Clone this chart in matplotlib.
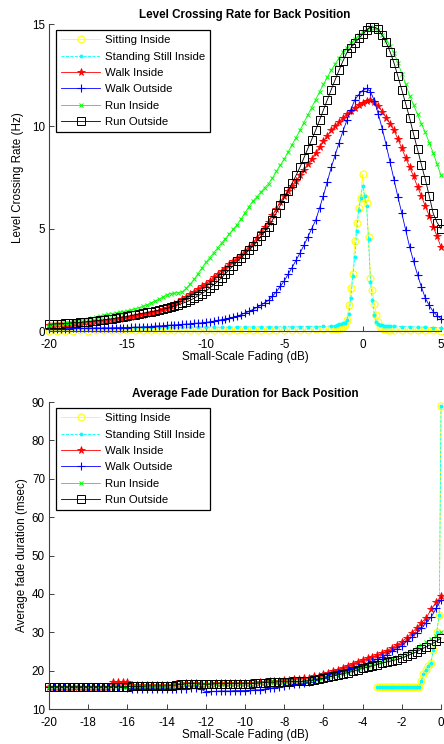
import numpy as np
import matplotlib
matplotlib.use("Agg")
import matplotlib.pyplot as plt

plt.rcParams['font.family'] = ['Liberation Sans', 'DejaVu Sans']
plt.rcParams['axes.unicode_minus'] = False

labels = ["Sitting Inside", "Standing Still Inside", "Walk Inside",
          "Walk Outside", "Run Inside", "Run Outside"]

# ---- level crossing rate (Hz) vs fading level (dB) ----
lcr_db = np.linspace(-20, 5, 101)
lcr_still_db = np.concatenate([np.linspace(-20, -2, 37),
                               np.linspace(-1.75, 1.75, 29),
                               np.linspace(2, 5, 7)])

lcr_sitting = [0.02, 0.02, 0.02, 0.02, 0.03, 0.02, 0.03, 0.03, 0.03, 0.03,
               0.03, 0.03, 0.04, 0.03, 0.04, 0.04, 0.04, 0.04, 0.04, 0.05,
               0.05, 0.05, 0.05, 0.05, 0.05, 0.06, 0.05, 0.06, 0.06, 0.06,
               0.06, 0.07, 0.07, 0.07, 0.08, 0.08, 0.09,
               0.10, 0.11, 0.13, 0.16, 0.20, 0.28, 0.55, 1.25, 2.1, 2.8,
               4.4, 5.3, 6.0, 6.5, 7.65, 6.5, 6.25, 4.6, 2.6, 2.0,
               1.3, 0.8, 0.42, 0.22, 0.13, 0.10, 0.08, 0.07, 0.06,
               0.05, 0.04, 0.04, 0.03, 0.03, 0.03, 0.02]
lcr_standing = [0.15, 0.15, 0.15, 0.16, 0.16, 0.16, 0.16, 0.17, 0.17, 0.17,
                0.17, 0.17, 0.18, 0.18, 0.18, 0.18, 0.18, 0.18, 0.19, 0.19,
                0.19, 0.19, 0.19, 0.19, 0.20, 0.20, 0.20, 0.20, 0.20, 0.20,
                0.21, 0.21, 0.21, 0.22, 0.22, 0.23, 0.24,
                0.25, 0.28, 0.32, 0.35, 0.37, 0.40, 0.55, 0.85, 1.6, 2.7,
                3.6, 4.9, 5.9, 6.5, 7.1, 6.6, 6.1, 4.5, 2.4, 1.5,
                0.8, 0.45, 0.33, 0.29, 0.27, 0.26, 0.25, 0.25, 0.24,
                0.24, 0.22, 0.21, 0.20, 0.19, 0.17, 0.16]
lcr_walk_in = [0.30, 0.31, 0.32, 0.34, 0.35, 0.36, 0.37, 0.39, 0.40, 0.42, 0.44, 0.46,
               0.48, 0.49, 0.51, 0.53, 0.55, 0.57, 0.60, 0.62, 0.65, 0.68, 0.72, 0.76,
               0.80, 0.85, 0.90, 0.95, 1.00, 1.07, 1.14, 1.22, 1.30, 1.42, 1.55, 1.68,
               1.80, 1.92, 2.05, 2.18, 2.30, 2.45, 2.62, 2.80, 2.95, 3.10, 3.25, 3.40,
               3.55, 3.72, 3.90, 4.10, 4.30, 4.55, 4.82, 5.10, 5.35, 5.65, 5.98, 6.30,
               6.60, 6.85, 7.10, 7.35, 7.60, 7.88, 8.15, 8.42, 8.70, 8.98, 9.28, 9.55,
               9.80, 10.00, 10.22, 10.42, 10.60, 10.75, 10.90, 11.05, 11.15, 11.25, 11.30, 11.20,
               11.00, 10.72, 10.42, 10.12, 9.80, 9.38, 8.92, 8.45, 8.00, 7.55, 7.05, 6.58,
               6.10, 5.62, 5.10, 4.62, 4.10]
lcr_walk_out = [0.12, 0.12, 0.12, 0.12, 0.12, 0.12, 0.13, 0.13, 0.13, 0.13, 0.14, 0.14,
                0.14, 0.14, 0.15, 0.15, 0.15, 0.16, 0.16, 0.17, 0.17, 0.18, 0.19, 0.19,
                0.20, 0.21, 0.22, 0.24, 0.25, 0.26, 0.27, 0.29, 0.30, 0.31, 0.32, 0.34,
                0.35, 0.37, 0.39, 0.40, 0.42, 0.45, 0.48, 0.52, 0.55, 0.59, 0.63, 0.67,
                0.72, 0.80, 0.88, 0.96, 1.05, 1.15, 1.26, 1.38, 1.50, 1.70, 1.92, 2.18,
                2.45, 2.78, 3.10, 3.45, 3.80, 4.18, 4.58, 5.00, 5.40, 6.00, 6.62, 7.30,
                8.00, 8.60, 9.20, 9.78, 10.30, 10.80, 11.30, 11.55, 11.75, 11.85, 11.70, 11.25,
                10.60, 9.88, 9.10, 8.25, 7.40, 6.55, 5.75, 4.92, 4.10, 3.40, 2.75, 2.15,
                1.60, 1.25, 0.95, 0.75, 0.60]
lcr_run_in = [0.30, 0.32, 0.34, 0.36, 0.38, 0.41, 0.45, 0.48, 0.52, 0.56, 0.60, 0.64,
              0.68, 0.72, 0.77, 0.81, 0.85, 0.88, 0.91, 0.94, 0.97, 1.02, 1.08, 1.14,
              1.20, 1.28, 1.37, 1.46, 1.55, 1.65, 1.78, 1.83, 1.85, 1.87, 1.92, 2.08,
              2.30, 2.52, 2.80, 3.08, 3.35, 3.58, 3.82, 4.06, 4.30, 4.52, 4.75, 4.98,
              5.20, 5.48, 5.78, 6.08, 6.35, 6.55, 6.78, 7.00, 7.20, 7.48, 7.80, 8.10,
              8.40, 8.75, 9.10, 9.45, 9.80, 10.18, 10.55, 10.92, 11.30, 11.68, 12.05, 12.40,
              12.75, 13.05, 13.35, 13.62, 13.85, 14.05, 14.25, 14.45, 14.60, 14.75, 14.85, 14.80,
              14.70, 14.48, 14.22, 13.92, 13.60, 13.10, 12.58, 12.05, 11.50, 11.05, 10.58, 10.12,
              9.70, 9.20, 8.70, 8.15, 7.60]
lcr_run_out = [0.33, 0.34, 0.35, 0.36, 0.37, 0.38, 0.40, 0.41, 0.42, 0.44, 0.46, 0.48,
               0.50, 0.52, 0.55, 0.57, 0.60, 0.63, 0.66, 0.69, 0.72, 0.76, 0.80, 0.84,
               0.87, 0.91, 0.95, 0.98, 1.02, 1.06, 1.11, 1.16, 1.22, 1.28, 1.35, 1.42,
               1.50, 1.60, 1.72, 1.83, 1.95, 2.10, 2.26, 2.42, 2.60, 2.80, 3.00, 3.20,
               3.40, 3.58, 3.78, 3.96, 4.15, 4.38, 4.62, 4.85, 5.10, 5.42, 5.78, 6.14,
               6.50, 6.86, 7.22, 7.60, 8.00, 8.45, 8.90, 9.35, 9.80, 10.30, 10.80, 11.30,
               11.80, 12.28, 12.75, 13.20, 13.60, 13.85, 14.08, 14.30, 14.50, 14.70, 14.85, 14.85,
               14.75, 14.45, 14.10, 13.65, 13.10, 12.45, 11.78, 11.10, 10.40, 9.62, 8.88, 8.12,
               7.40, 6.60, 5.75, 5.30, 5.00]

# ---- average fade duration (msec) vs fading level (dB) ----
afd_db = np.linspace(-20, 0, 81)
afd_still_db = np.concatenate([np.linspace(-3.25, -1.125, 18),
                               [-1.0, -0.9, -0.78, -0.65, -0.52, -0.39, -0.22, -0.09, 0.0]])

afd_sitting = [15.8, 15.8, 15.8, 15.8, 15.8, 15.8, 15.8, 15.8, 15.8,
               15.8, 15.8, 15.8, 15.8, 15.8, 15.8, 15.8, 15.8, 15.8,
               17.4, 19.0, 20.2, 21.2, 22.1, 25.3, 30.2, 34.5, 89.0]
afd_standing = [15.8, 15.8, 15.8, 15.8, 15.8, 15.8, 15.8, 15.8, 15.8,
                15.8, 15.8, 15.8, 15.8, 15.8, 15.8, 15.8, 15.8, 15.8,
                17.4, 19.0, 20.2, 21.2, 22.1, 25.3, 30.0, 34.5, 89.0]
afd_walk_in = [15.8, 15.8, 15.8, 15.8, 15.8, 15.8, 15.8, 15.8, 15.8, 15.8, 15.8, 15.8,
               15.8, 17.0, 17.0, 17.0, 17.0, 16.3, 16.3, 16.3, 16.3, 16.3, 16.3, 16.3,
               16.3, 16.3, 16.4, 16.5, 16.7, 16.7, 16.7, 16.6, 16.6, 16.6, 16.7, 16.7,
               16.7, 16.7, 16.7, 16.7, 16.7, 16.8, 16.9, 17.0, 17.1, 17.2, 17.3, 17.4,
               17.5, 17.6, 17.7, 17.9, 18.0, 18.2, 18.5, 18.7, 19.0, 19.4, 19.9, 20.3,
               20.8, 21.3, 21.8, 22.3, 22.8, 23.2, 23.6, 24.0, 24.5, 25.2, 25.9, 26.7,
               27.5, 28.6, 29.8, 31.1, 32.5, 33.8, 36.0, 37.8, 39.5]
afd_walk_out = [15.7, 15.7, 15.7, 15.7, 15.7, 15.7, 15.7, 15.7, 15.7, 15.7, 15.7, 15.7,
                15.7, 15.7, 15.7, 15.7, 15.4, 15.3, 15.3, 15.3, 15.3, 15.3, 15.3, 15.3,
                15.3, 15.3, 15.3, 15.3, 15.3, 15.4, 15.4, 15.2, 14.5, 14.6, 14.6, 14.7,
                14.7, 14.7, 14.8, 14.8, 14.8, 14.9, 15.0, 15.0, 15.2, 15.4, 15.6, 15.8,
                16.0, 16.2, 16.4, 16.6, 16.8, 17.1, 17.5, 17.8, 18.2, 18.6, 19.0, 19.4,
                19.8, 20.2, 20.6, 21.0, 21.5, 22.0, 22.5, 23.0, 23.5, 24.2, 25.0, 25.7,
                26.5, 27.6, 28.7, 29.8, 31.0, 32.5, 34.0, 36.2, 38.5]
afd_run_in = [15.8, 15.8, 15.8, 15.8, 15.8, 15.8, 15.8, 15.8, 15.8, 15.8, 15.8, 15.8,
              15.8, 15.8, 15.8, 15.8, 15.8, 15.9, 15.9, 15.9, 16.0, 16.0, 16.0, 16.0,
              16.0, 16.1, 16.2, 16.4, 16.6, 16.6, 16.5, 16.5, 16.5, 16.5, 16.6, 16.6,
              16.6, 16.6, 16.6, 16.6, 16.6, 16.6, 16.7, 16.8, 16.9, 17.0, 17.0, 17.1,
              17.1, 17.1, 17.2, 17.2, 17.2, 17.4, 17.6, 17.8, 18.0, 18.3, 18.6, 18.9,
              19.3, 19.6, 20.0, 20.4, 20.8, 21.2, 21.5, 21.9, 22.3, 22.7, 23.1, 23.5,
              24.0, 24.6, 25.2, 25.9, 26.7, 27.4, 28.2, 29.0, 30.0]
afd_run_out = [15.8, 15.8, 15.8, 15.8, 15.8, 15.8, 15.8, 15.8, 15.8, 15.8, 15.8, 15.8,
               15.8, 15.8, 15.8, 15.8, 15.8, 15.9, 15.9, 15.9, 16.0, 16.0, 16.0, 16.0,
               16.0, 16.1, 16.3, 16.4, 16.6, 16.6, 16.6, 16.5, 16.5, 16.5, 16.6, 16.6,
               16.6, 16.6, 16.6, 16.6, 16.6, 16.6, 16.7, 16.8, 16.9, 17.0, 17.0, 17.1,
               17.1, 17.1, 17.2, 17.2, 17.2, 17.4, 17.6, 17.8, 18.0, 18.3, 18.6, 18.9,
               19.2, 19.5, 19.8, 20.2, 20.6, 20.9, 21.3, 21.6, 22.0, 22.3, 22.6, 22.9,
               23.3, 23.8, 24.4, 24.9, 25.6, 26.2, 26.9, 27.6, 28.5]

# matlab-ish styles for the six cases
styles = [
    dict(color='yellow', ls='-', marker='o', ms=5, mfc='none', mew=0.8),
    dict(color='cyan', ls='--', marker='o', ms=2.8, mfc='cyan', mec='cyan', mew=0),
    dict(color='red', ls='-', marker='*', ms=5.5, mew=0.6),
    dict(color='blue', ls='-', marker='+', ms=6, mew=0.8),
    dict(color='#00ff00', ls='-', marker='x', ms=3, mew=0.7),
    dict(color='black', ls='-', marker='s', ms=5.2, mfc='none', mew=0.7),
]


def style_axes(ax):
    for side in ['top', 'right']:
        ax.spines[side].set_visible(False)
    for side in ['left', 'bottom']:
        ax.spines[side].set_linewidth(0.8)
        ax.spines[side].set_color('0.25')
    ax.tick_params(direction='in', length=3.5, width=0.7, labelsize=8.4,
                   color='0.25')
    ax.tick_params(axis='x', pad=5.5)
    ax.tick_params(axis='y', pad=3)


fig = plt.figure(figsize=(4.44, 7.44), dpi=100)

ax1 = fig.add_axes([0.1104, 0.5551, 0.8829, 0.4126])
lcr_x = [lcr_still_db, lcr_still_db, lcr_db, lcr_db, lcr_db, lcr_db]
lcr_y = [lcr_sitting, lcr_standing, lcr_walk_in, lcr_walk_out, lcr_run_in, lcr_run_out]
for xs, ys, lab, st in zip(lcr_x, lcr_y, labels, styles):
    ax1.plot(xs, ys, label=lab, lw=0.6, clip_on=False, **st)
ax1.set_xlim(-20, 5)
ax1.set_ylim(0, 15)
ax1.set_xticks([-20, -15, -10, -5, 0, 5])
ax1.set_yticks([0, 5, 10, 15])
ax1.set_title("Level Crossing Rate for Back Position", fontsize=8.4,
              fontweight='bold', pad=4)
ax1.set_xlabel("Small-Scale Fading (dB)", fontsize=8.4, labelpad=0)
ax1.set_ylabel("Level Crossing Rate (Hz)", fontsize=8.4, labelpad=6)
style_axes(ax1)

ax2 = fig.add_axes([0.1104, 0.0470, 0.8829, 0.4126])
afd_x = [afd_still_db, afd_still_db, afd_db, afd_db, afd_db, afd_db]
afd_y = [afd_sitting, afd_standing, afd_walk_in, afd_walk_out, afd_run_in, afd_run_out]
for xs, ys, lab, st in zip(afd_x, afd_y, labels, styles):
    ax2.plot(xs, ys, label=lab, lw=0.6, clip_on=False, **st)
ax2.set_xlim(-20, 0)
ax2.set_ylim(10, 90)
ax2.set_xticks(range(-20, 1, 2))
ax2.set_yticks(range(10, 91, 10))
ax2.set_title("Average Fade Duration for Back Position", fontsize=8.4,
              fontweight='bold', pad=4)
ax2.set_xlabel("Small-Scale Fading (dB)", fontsize=8.4, labelpad=0)
ax2.set_ylabel("Average fade duration (msec)", fontsize=8.4, labelpad=3)
style_axes(ax2)

for ax in [ax1, ax2]:
    leg = ax.legend(loc='upper left', bbox_to_anchor=(0.018, 0.98),
                    borderaxespad=0, fontsize=8.2, numpoints=1,
                    handlelength=3.4, handletextpad=0.45, labelspacing=0.56,
                    borderpad=0.45, fancybox=False, framealpha=1)
    leg.get_frame().set_edgecolor('black')
    leg.get_frame().set_linewidth(0.9)

fig.savefig("out.png", dpi=100)
